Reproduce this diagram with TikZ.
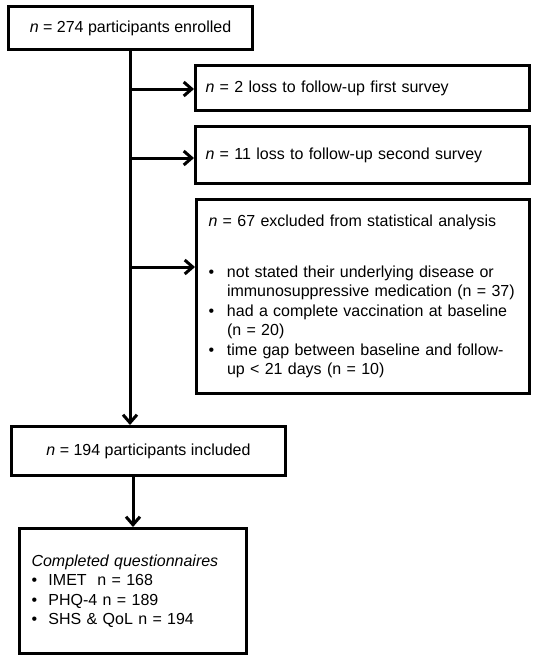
\documentclass[tikz,border=0pt]{standalone}
\usepackage{fontspec}
\setmainfont{Liberation Sans}
\usetikzlibrary{arrows.meta}
\begin{document}
\begin{tikzpicture}[x=1pt,y=-1pt,
  box/.style={draw, line width=3pt, anchor=north west, inner ysep=0pt,
    font=\fontsize{16}{19.5}\selectfont},
  leftbox/.style={box, align=left},
  conn/.style={line width=3pt, -{Straight Barb[length=8pt,width=14pt]}},
]
\useasboundingbox[fill=white] (0,0) rectangle (536,659);

\node[box, minimum width=244pt, minimum height=43pt, inner xsep=0pt] (enrolled) at (7,5)
  {\textit{n} = 274 participants enrolled};

\node[leftbox, text width=314pt, inner xsep=10pt, minimum height=45pt] (loss1) at (194,64)
  {\textit{n} = 2 loss to follow-up first survey};

\node[leftbox, text width=314pt, inner xsep=10pt, minimum height=57pt] (loss2) at (194,125)
  {\textit{n} = 11 loss to follow-up second survey};

\node[leftbox, text width=309pt, inner xsep=12pt, minimum height=194pt] (excl) at (195,198)
  {\mbox{\textit{n} = 67 excluded from statistical analysis}\\[31pt]
   \mbox{\makebox[18.5pt][l]{•}not stated their underlying disease or}\\
   \mbox{\hspace*{18.5pt}immunosuppressive medication (n = 37)}\\
   \mbox{\makebox[18.5pt][l]{•}had a complete vaccination at baseline}\\
   \mbox{\hspace*{18.5pt}(n = 20)}\\
   \mbox{\makebox[18.5pt][l]{•}time gap between baseline and follow-}\\
   \mbox{\hspace*{18.5pt}up < 21 days (n = 10)}};

\node[box, minimum width=274pt, minimum height=49pt, inner xsep=0pt] (incl) at (10,425)
  {\textit{n} = 194 participants included};

\node[leftbox, text width=203pt, inner xsep=12pt, minimum height=125pt] (quest) at (18,527)
  {\textit{Completed questionnaires}\\
   \makebox[17pt][l]{•}IMET\ \ n = 168\\
   \makebox[17pt][l]{•}PHQ-4 n = 189\\
   \makebox[17pt][l]{•}SHS \& QoL n = 194};

\coordinate (j1) at (130,89);
\coordinate (j2) at (130,158);
\coordinate (j3) at (130,267);
\coordinate (j4) at (133,500);

\draw[conn] (j1 |- enrolled.south) -- (j1 |- incl.north);
\draw[conn] (j1) -- (j1 -| loss1.west);
\draw[conn] (j2) -- (j2 -| loss2.west);
\draw[conn] (j3) -- (j3 -| excl.west);
\draw[conn] (j4 |- incl.south) -- (j4 |- quest.north);
\end{tikzpicture}
\end{document}
